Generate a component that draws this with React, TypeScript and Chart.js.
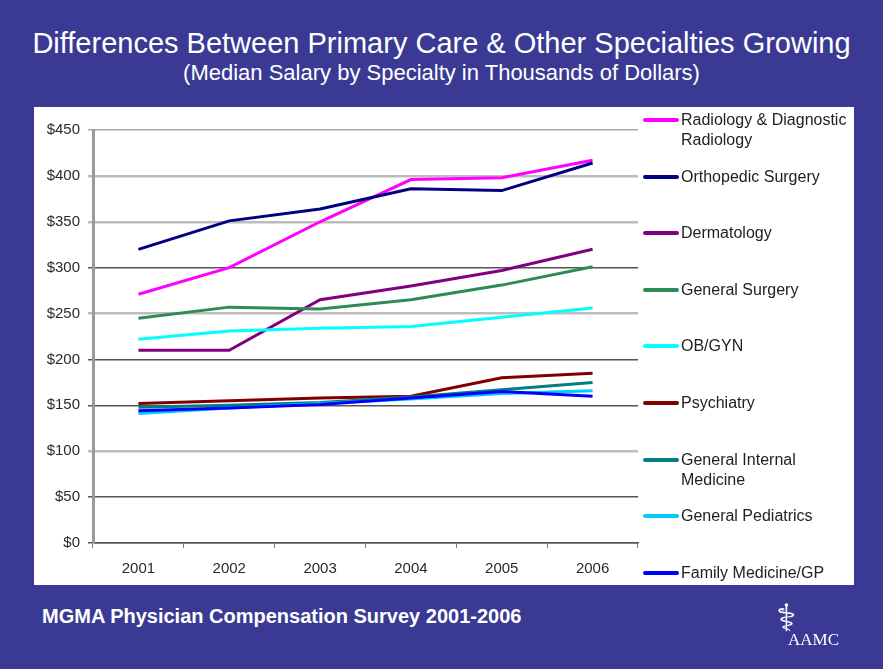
import React, { useEffect, useRef } from "react";
import { Chart, registerables } from "chart.js";

Chart.register(...registerables);

const years = ["2001", "2002", "2003", "2004", "2005", "2006"];

const radiology = [271, 300, 350, 396, 398, 417];
const orthopedic = [320, 351, 364, 386, 384, 414];
const dermatology = [210, 210, 265, 280, 297, 320];
const generalSurgery = [245, 257, 255, 265, 281, 301];
const obgyn = [222, 231, 234, 236, 246, 256];
const psychiatry = [152, 155, 158, 160, 180, 185];
const internalMedicine = [148, 150, 153, 159, 167, 175];
const pediatrics = [141, 147, 152, 157, 163, 166];
const familyMedicine = [144, 147, 151, 158, 165, 160];

const seriesNames = [
  "Radiology & Diagnostic Radiology",
  "Orthopedic Surgery",
  "Dermatology",
  "General Surgery",
  "OB/GYN",
  "Psychiatry",
  "General Internal Medicine",
  "General Pediatrics",
  "Family Medicine/GP",
];
const legendLines = [
  ["Radiology & Diagnostic", "Radiology"],
  ["Orthopedic Surgery"],
  ["Dermatology"],
  ["General Surgery"],
  ["OB/GYN"],
  ["Psychiatry"],
  ["General Internal", "Medicine"],
  ["General Pediatrics"],
  ["Family Medicine/GP"],
];
const seriesValues = [
  radiology,
  orthopedic,
  dermatology,
  generalSurgery,
  obgyn,
  psychiatry,
  internalMedicine,
  pediatrics,
  familyMedicine,
];
const seriesColors = [
  "#ff00ff",
  "#000080",
  "#800080",
  "#2e8b57",
  "#00ffff",
  "#800000",
  "#008080",
  "#00ccff",
  "#0000ff",
];

const yMin = 0;
const yMax = 450;
const yStep = 50;

// gridline styling by tick value (dark vs light lines as in the slide)
const gridColorByValue: Record<number, string> = {
  0: "#555555",
  50: "#555555",
  100: "#bdbdbd",
  150: "#555555",
  200: "#555555",
  250: "#bdbdbd",
  300: "#555555",
  350: "#bdbdbd",
  400: "#bdbdbd",
  450: "#aaaaaa",
};
const gridWidthByValue: Record<number, number> = {
  0: 1.5,
  50: 1.5,
  100: 2.5,
  150: 1.5,
  200: 1.5,
  250: 2.5,
  300: 1.5,
  350: 2.5,
  400: 2.5,
  450: 1.5,
};

const BG = "#3a3a94";
const FONT = "'Liberation Sans', Arial, sans-serif";

export default function App() {
  const canvasRef = useRef<HTMLCanvasElement | null>(null);

  useEffect(() => {
    const canvas = canvasRef.current;
    if (!canvas) return;
    const n = seriesNames.length;
    const chart = new Chart(canvas, {
      type: "line",
      data: {
        labels: years,
        datasets: seriesNames.map((name, i) => ({
          label: name,
          data: seriesValues[i],
          borderColor: seriesColors[i],
          backgroundColor: seriesColors[i],
          borderWidth: 3,
          pointRadius: 0,
          tension: 0,
          fill: false,
          order: n - 1 - i,
        })),
      },
      options: {
        responsive: false,
        animation: false,
        devicePixelRatio: 1,
        layout: { padding: { left: 0, top: 23, right: 216, bottom: 0 } },
        plugins: {
          legend: { display: false },
          tooltip: { enabled: false },
          title: { display: false },
        },
        scales: {
          x: {
            type: "category",
            offset: true,
            grid: {
              display: true,
              offset: true,
              drawOnChartArea: false,
              drawTicks: true,
              tickLength: 5,
              color: "#777777",
              lineWidth: 1,
            },
            border: { display: true, color: "#555555", width: 1.5 },
            ticks: {
              color: "#2a2a2a",
              font: { family: FONT, size: 15 },
              padding: 12,
              maxRotation: 0,
            },
            afterFit: (s: any) => {
              s.height = 42;
            },
          },
          y: {
            min: yMin,
            max: yMax,
            ticks: {
              stepSize: yStep,
              color: "#2a2a2a",
              font: { family: FONT, size: 15 },
              padding: 8,
              callback: (v: any) => "$" + v,
            },
            grid: {
              drawTicks: true,
              tickLength: 5,
              color: (ctx: any) => gridColorByValue[ctx.tick?.value] ?? "#999999",
              lineWidth: (ctx: any) => gridWidthByValue[ctx.tick?.value] ?? 1.5,
            },
            border: { display: true, color: "#9a9a9a", width: 3 },
            afterFit: (s: any) => {
              s.width = 59;
            },
          },
        },
      },
    });
    return () => chart.destroy();
  }, []);

  const legendTop = 120;
  const legendStep = 56.6;

  return (
    <div
      style={{
        position: "absolute",
        left: 0,
        top: 0,
        width: 883,
        height: 669,
        background: BG,
        overflow: "hidden",
        fontFamily: FONT,
      }}
    >
      <div
        style={{
          position: "absolute",
          left: 0,
          width: 883,
          top: 26,
          textAlign: "center",
          color: "#ffffff",
          fontSize: 29,
          lineHeight: "34px",
          whiteSpace: "nowrap",
        }}
      >
        Differences Between Primary Care &amp; Other Specialties Growing
      </div>
      <div
        style={{
          position: "absolute",
          left: 0,
          width: 883,
          top: 60,
          textAlign: "center",
          color: "#ffffff",
          fontSize: 22,
          lineHeight: "26px",
          whiteSpace: "nowrap",
        }}
      >
        (Median Salary by Specialty in Thousands of Dollars)
      </div>
      <div
        style={{
          position: "absolute",
          left: 34,
          top: 107,
          width: 820,
          height: 478,
          background: "#ffffff",
        }}
      >
        <canvas
          ref={canvasRef}
          width={820}
          height={478}
          style={{ display: "block", width: 820, height: 478 }}
        />
      </div>
      {legendLines.map((lines, i) => (
        <div
          key={i}
          style={{
            position: "absolute",
            left: 643,
            top: legendTop + i * legendStep - 10,
            display: "flex",
            alignItems: "flex-start",
          }}
        >
          <span
            style={{
              display: "inline-block",
              width: 36,
              height: 4,
              marginTop: 8,
              background: seriesColors[i],
              borderRadius: 2,
            }}
          />
          <div
            style={{
              marginLeft: 2,
              color: "#222222",
              fontSize: 16,
              lineHeight: "20px",
              whiteSpace: "nowrap",
            }}
          >
            {lines.map((t, j) => (
              <div key={j}>{t}</div>
            ))}
          </div>
        </div>
      ))}
      <div
        style={{
          position: "absolute",
          left: 42,
          top: 604,
          color: "#ffffff",
          fontSize: 20,
          fontWeight: "bold",
          lineHeight: "24px",
          whiteSpace: "nowrap",
        }}
      >
        MGMA Physician Compensation Survey 2001-2006
      </div>
      <div
        style={{
          position: "absolute",
          left: 776,
          top: 596,
          color: "#ffffff",
          fontFamily: "'DejaVu Sans', sans-serif",
          fontSize: 38,
          lineHeight: "44px",
        }}
      >
        ⚕
      </div>
      <div
        style={{
          position: "absolute",
          left: 788,
          top: 629,
          color: "#ffffff",
          fontFamily: "'Liberation Serif', serif",
          fontSize: 17,
          lineHeight: "22px",
        }}
      >
        AAMC
      </div>
    </div>
  );
}
